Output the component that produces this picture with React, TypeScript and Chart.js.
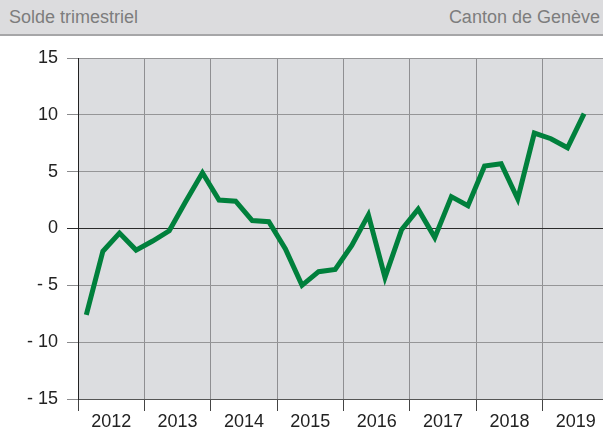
import React, { useEffect, useRef } from "react";
import { Chart, registerables } from "chart.js";

Chart.register(...registerables);

const title = "Solde trimestriel";
const source = "Canton de Genève";
const years = ["2012", "2013", "2014", "2015", "2016", "2017", "2018", "2019"];
// quarterly values, 2012 Q1 .. 2019 Q3
const values = [
  -7.6, -2.0, -0.4, -1.9,
  -1.1, -0.2, 2.4, 4.9,
  2.5, 2.4, 0.7, 0.6,
  -1.8, -5.0, -3.8, -3.6,
  -1.5, 1.2, -4.3, -0.1,
  1.7, -0.8, 2.8, 2.0,
  5.5, 5.7, 2.6, 8.4,
  7.9, 7.1, 10.1,
];
const yTicks = [-15, -10, -5, 0, 5, 10, 15];

const FONT = "'Liberation Sans', Arial, Helvetica, sans-serif";

const bgPlugin = {
  id: "plotBg",
  beforeDraw(chart: any) {
    const { ctx, chartArea } = chart;
    if (!chartArea) return;
    ctx.save();
    ctx.fillStyle = "#dcdde0";
    ctx.fillRect(chartArea.left, chartArea.top, chartArea.right - chartArea.left, chartArea.bottom - chartArea.top);
    ctx.restore();
  },
};

export default function App() {
  const ref = useRef<HTMLCanvasElement | null>(null);

  useEffect(() => {
    if (!ref.current) return;
    const chart = new Chart(ref.current, {
      type: "line",
      data: {
        datasets: [
          {
            data: values.map((v, i) => ({ x: i + 0.5, y: v })),
            borderColor: "#00803c",
            borderWidth: 5,
            pointRadius: 0,
            tension: 0,
            fill: false,
            borderJoinStyle: "miter",
          },
        ],
      },
      options: {
        animation: false,
        responsive: false,
        layout: { padding: { top: 58, left: 0, right: 0, bottom: 0 } },
        plugins: { legend: { display: false }, tooltip: { enabled: false } },
        scales: {
          x: {
            type: "linear",
            min: 0,
            max: years.length * 4,
            position: "bottom",
            afterFit: (s: any) => {
              s.height = 29;
            },
            ticks: {
              stepSize: 2,
              autoSkip: false,
              maxRotation: 0,
              padding: 0,
              color: "#222",
              font: { family: FONT, size: 18 },
              callback: (v: any) => {
                const n = Number(v);
                return n % 4 === 2 ? years[(n - 2) / 4] : "";
              },
            },
            grid: {
              color: (c: any) => (c.tick && c.tick.value % 4 === 0 ? "#8f8f92" : "rgba(0,0,0,0)"),
              tickColor: (c: any) => (c.tick && c.tick.value % 4 === 0 ? "#444" : "rgba(0,0,0,0)"),
              tickLength: 12,
              lineWidth: 1,
            },
            border: { color: "#555", width: 1 },
          },
          y: {
            type: "linear",
            min: yTicks[0],
            max: yTicks[yTicks.length - 1],
            afterFit: (s: any) => {
              s.width = 78;
            },
            afterBuildTicks: (s: any) => {
              s.ticks = yTicks.map((v) => ({ value: v }));
            },
            ticks: {
              padding: 9,
              color: "#222",
              font: { family: FONT, size: 18 },
              callback: (v: any) => {
                const n = Number(v);
                return n < 0 ? "- " + Math.abs(n) : String(n);
              },
            },
            grid: {
              color: (c: any) => (c.tick && c.tick.value === 0 ? "#2a2a2a" : "#959597"),
              tickColor: (c: any) => (c.tick && c.tick.value === 0 ? "#2a2a2a" : "#8a8a8c"),
              tickLength: 11,
              lineWidth: 1,
            },
            border: { color: "#222", width: 1 },
          },
        },
      },
      plugins: [bgPlugin],
    } as any);
    return () => chart.destroy();
  }, []);

  return (
    <div
      style={{
        position: "absolute",
        left: 0,
        top: 0,
        width: 603,
        height: 428,
        overflow: "hidden",
        background: "#fff",
        fontFamily: FONT,
      }}
    >
      <canvas ref={ref} width={609} height={428} style={{ position: "absolute", left: 0, top: 0, display: "block" }} />
      <div
        style={{
          position: "absolute",
          left: 0,
          top: 0,
          width: 603,
          height: 33,
          background: "#dcdcde",
          borderBottom: "2px solid #a6a6a8",
          display: "flex",
          alignItems: "center",
          justifyContent: "space-between",
          boxSizing: "content-box",
          color: "#7d7d7d",
          fontSize: 18,
          paddingTop: 1,
        }}
      >
        <span style={{ paddingLeft: 9 }}>{title}</span>
        <span style={{ paddingRight: 3 }}>{source}</span>
      </div>
    </div>
  );
}
